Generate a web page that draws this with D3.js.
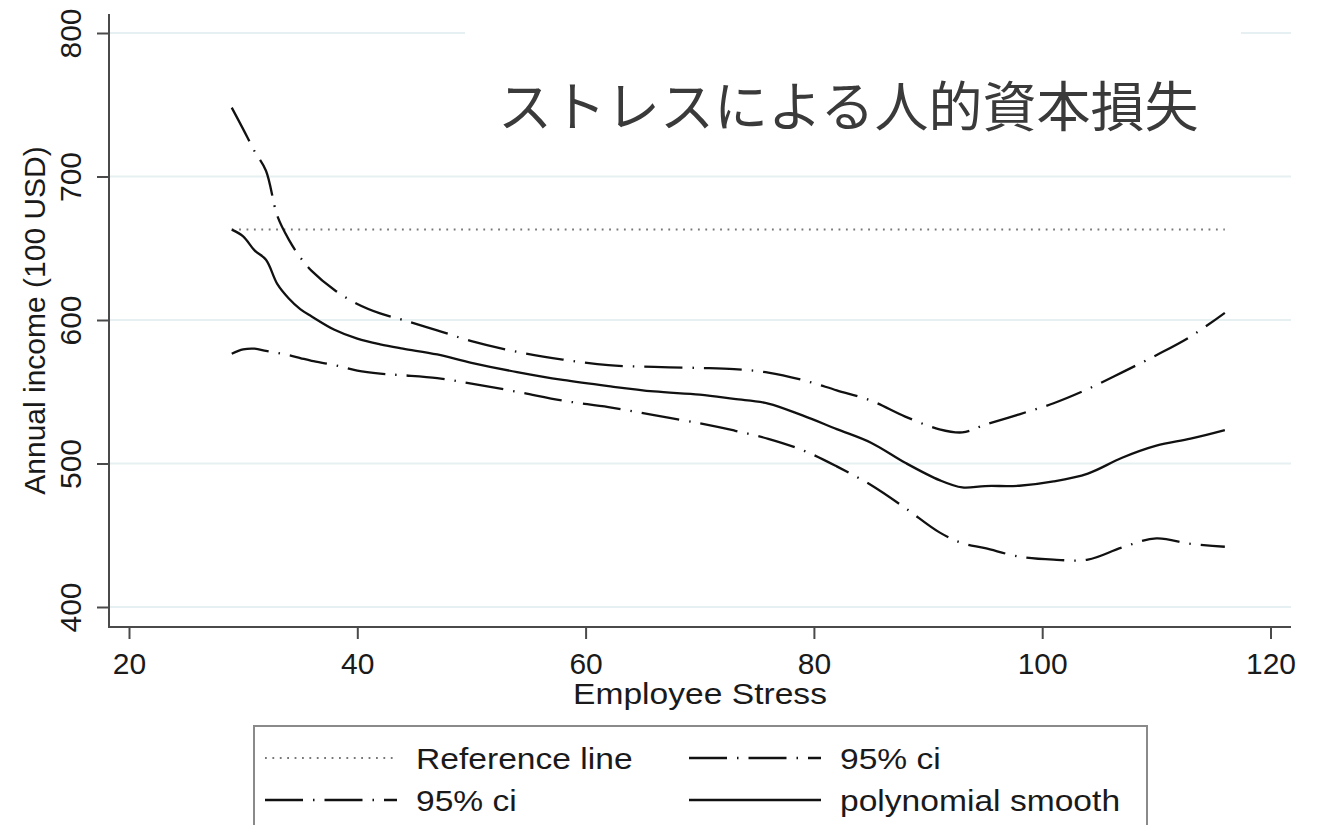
<!DOCTYPE html>
<html>
<head>
<meta charset="utf-8">
<script src="https://cdn.jsdelivr.net/npm/d3@7"></script>
<style>
  html, body { margin: 0; padding: 0; background: #fff; }
  svg { display: block; }
  text { font-family: "Liberation Sans", Arial, sans-serif; fill: #1a1a1a; }
</style>
</head>
<body>
<svg id="chart" width="1319" height="825"></svg>
<script>
// ---- data ----
const stress = [29,30,31,32,33,34,35,36,38,40,42,44,47,50,54,58,62,66,70,73,76,79,82,85,88,91,93,95,98,101,104,107,110,113,116];
const smooth = [663,658.3,648.5,642,625,615,607.6,602.5,593.2,587,583,580,576,570.2,563.7,558.2,553.9,550.2,548,545,541.8,533.5,524,514.5,500.5,488.4,483.3,484.3,484.5,487.5,493,504,512.4,517.3,523.3];
const ciUpper = [748,733,717.6,704,672.4,656,643.7,634.2,620.9,611.2,604.6,600,592.8,585.3,577.8,572.4,568.5,567.3,566.6,565.8,563.4,558.2,551,543.8,532.7,523.8,521.7,527,534.3,542,551.9,563.5,575.5,588.5,605];
const ciLower = [576.5,579.5,580,578.5,577,575.5,573.5,571.5,568.6,564.7,562.6,561.5,559.5,555.6,550,543.8,539.3,533.7,528,523,517.2,509.3,498,485,469,452,444.5,441,435.1,433,433,441.5,447.8,444,442];
const referenceValue = 663;
const referenceRange = [29, 116];
const xTicks = [20,40,60,80,100,120];
const yTicks = [400,500,600,700,800];
const titleText = "ストレスによる人的資本損失";
const xLabel = "Employee Stress";
const yLabel = "Annual income (100 USD)";
const legendLabels = ["Reference line", "95% ci", "95% ci", "polynomial smooth"];

// ---- layout ----
const svg = d3.select("#chart");
const x = d3.scaleLinear().domain([20,120]).range([129, 1270.5]);
const y = d3.scaleLinear().domain([400,800]).range([607, 33]);
const axisColor = "#4a4a4a";
const gridColor = "#e6eff1";
const dashDot = "38,10,1.5,10";
const hStretch = 1.12;

// gridlines
svg.append("g").selectAll("line").data(yTicks).join("line")
  .attr("x1", 110).attr("x2", 1291)
  .attr("y1", d => y(d)).attr("y2", d => y(d))
  .attr("stroke", gridColor).attr("stroke-width", 2);

// white box behind title (hides part of top gridline)
svg.append("rect").attr("x", 465).attr("y", 20).attr("width", 776).attr("height", 148).attr("fill", "#fff");

svg.append("text").attr("x", 498).attr("y", 127)
  .style("font-family", '"Noto Sans CJK JP", "Noto Sans CJK SC", sans-serif')
  .style("font-size", "54px").style("fill", "#3a3a3a")
  .text(titleText);

// axes
const xAxis = d3.axisBottom(x).tickValues(xTicks).tickSize(12).tickFormat(d3.format("d"));
const gx = svg.append("g").attr("transform", "translate(0,627)").call(xAxis);
gx.select(".domain").remove();
gx.selectAll(".tick line").attr("stroke", axisColor).attr("stroke-width", 2);
gx.selectAll(".tick text").attr("dy", null).attr("y", 47)
  .style("font-size", "30px").style("font-family", '"Liberation Sans", Arial, sans-serif').attr("fill", "#1a1a1a");

const yAxis = d3.axisLeft(y).tickValues(yTicks).tickSize(12).tickFormat(d3.format("d"));
const gy = svg.append("g").attr("transform", "translate(109,0)").call(yAxis);
gy.select(".domain").remove();
gy.selectAll(".tick line").attr("stroke", axisColor).attr("stroke-width", 2);
gy.selectAll(".tick text").attr("x", null).attr("dy", null)
  .attr("transform", "translate(-28,0) rotate(-90)")
  .attr("text-anchor", "middle")
  .style("font-size", "30px").style("font-family", '"Liberation Sans", Arial, sans-serif').attr("fill", "#1a1a1a");

svg.append("line").attr("x1", 109).attr("x2", 109).attr("y1", 14).attr("y2", 628)
  .attr("stroke", axisColor).attr("stroke-width", 2);
svg.append("line").attr("x1", 108).attr("x2", 1291).attr("y1", 627).attr("y2", 627)
  .attr("stroke", axisColor).attr("stroke-width", 2);

// axis titles
svg.append("text").attr("x", 700).attr("y", 704).attr("text-anchor", "middle")
  .style("font-size", "30px").attr("transform", `translate(700,0) scale(${hStretch},1) translate(-700,0)`).text(xLabel);
svg.append("text").attr("transform", `translate(45,${(14+627)/2}) rotate(-90)`)
  .attr("text-anchor", "middle").style("font-size", "30px").text(yLabel);

// lines
const line = (vals) => d3.line().x((d,i) => x(stress[i])).y(d => y(d)).curve(d3.curveCatmullRom.alpha(0.5))(vals);
svg.append("line")
  .attr("x1", x(referenceRange[0])).attr("x2", x(referenceRange[1]))
  .attr("y1", y(referenceValue)).attr("y2", y(referenceValue))
  .attr("stroke", "#777").attr("stroke-width", 2).attr("stroke-dasharray", "1.8,5.6");
svg.append("path").attr("d", line(ciUpper)).attr("fill", "none").attr("stroke", "#111")
  .attr("stroke-width", 2.3).attr("stroke-dasharray", dashDot);
svg.append("path").attr("d", line(ciLower)).attr("fill", "none").attr("stroke", "#111")
  .attr("stroke-width", 2.3).attr("stroke-dasharray", dashDot);
svg.append("path").attr("d", line(smooth)).attr("fill", "none").attr("stroke", "#111")
  .attr("stroke-width", 2.3);

// legend
const lg = svg.append("g");
lg.append("rect").attr("x", 254).attr("y", 726).attr("width", 893).attr("height", 120)
  .attr("fill", "#fff").attr("stroke", "#8a8a8a").attr("stroke-width", 2);
const legendItems = [
  {label: legendLabels[0], sx: 265, ty: 758, style: "ref"},
  {label: legendLabels[1], sx: 689, ty: 758, style: "ci"},
  {label: legendLabels[2], sx: 265, ty: 800, style: "ci"},
  {label: legendLabels[3], sx: 689, ty: 800, style: "solid"}
];
legendItems.forEach(it => {
  const l = lg.append("line").attr("x1", it.sx).attr("x2", it.sx + 132)
    .attr("y1", it.ty).attr("y2", it.ty);
  if (it.style === "ref") l.attr("stroke", "#777").attr("stroke-width", 2).attr("stroke-dasharray", "1.8,5.6");
  else if (it.style === "ci") l.attr("stroke", "#111").attr("stroke-width", 2.3).attr("stroke-dasharray", dashDot);
  else l.attr("stroke", "#111").attr("stroke-width", 2.3);
  const tx = it.sx + 151;
  lg.append("text").attr("x", tx).attr("y", it.ty + 11)
    .attr("transform", `translate(${tx},0) scale(${hStretch},1) translate(${-tx},0)`)
    .style("font-size", "30px").text(it.label);
});
</script>
</body>
</html>
